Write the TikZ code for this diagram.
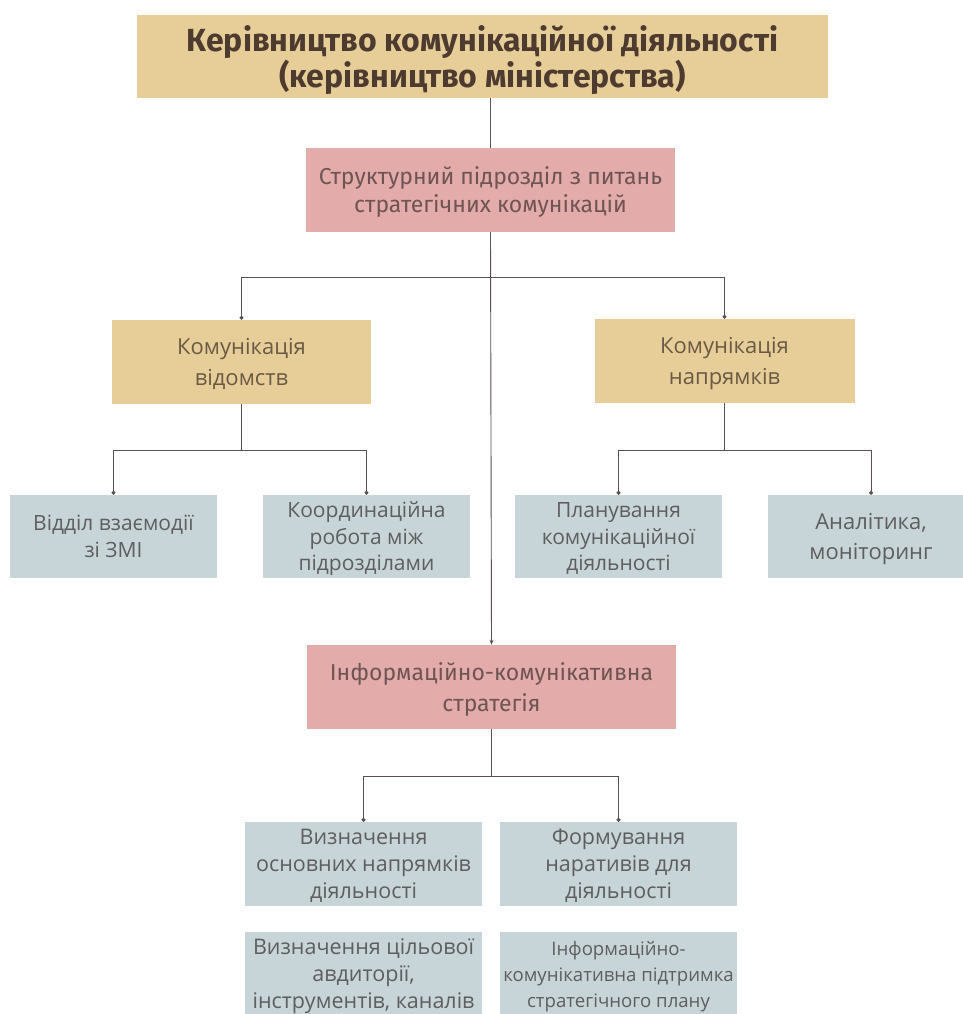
\documentclass[tikz,border=0pt]{standalone}
\usepackage{fontspec}
\setmainfont{Fira Sans}
\newfontfamily\geofont{Open Sans}
\usetikzlibrary{arrows.meta}
\definecolor{tanc}{HTML}{E7CE98}
\definecolor{pinkc}{HTML}{E3ACAA}
\definecolor{bluec}{HTML}{C7D4D8}
\definecolor{titlec}{HTML}{4D3B2F}
\definecolor{txtc}{HTML}{5E5E5E}
\definecolor{tantxt}{HTML}{6A5A45}
\definecolor{pinktxt}{HTML}{6E5553}
\definecolor{linec}{HTML}{5A5050}
\tikzset{
  box/.style={draw=none, inner sep=2pt, align=center, anchor=center, text depth=0pt},
  titlebox/.style={box, fill=tanc, text=titlec, minimum width=691pt, minimum height=83pt,
    font=\fontsize{32}{36}\selectfont\bfseries},
  pinkbox/.style={box, fill=pinkc, text=pinktxt, minimum width=369pt, minimum height=84pt,
    font=\fontsize{23}{28}\selectfont},
  tanbox/.style={box, fill=tanc, text=tantxt, minimum width=259pt, minimum height=84pt,
    font=\geofont\fontsize{22}{31}\selectfont},
  bluebox/.style={box, fill=bluec, text=txtc, minimum width=207pt, minimum height=83pt,
    font=\geofont\fontsize{21}{26.5}\selectfont},
  wbluebox/.style={bluebox, minimum width=237pt, minimum height=84pt,
    font=\geofont\fontsize{21.5}{27}\selectfont},
  conn/.style={draw=linec, line width=0.9pt},
  dotend/.style={conn, -{Circle[length=4pt]}},
  arrend/.style={conn, -{Stealth[length=5pt,width=4pt]}}
}
\begin{document}
\begin{tikzpicture}[x=1pt,y=-1pt]
\useasboundingbox (0,0) rectangle (962,1014);
\fill[white] (0,0) rectangle (962,1014);

\node[titlebox] (top) at (482.5,56.5) {Керівництво комунікаційної діяльності\\(керівництво міністерства)};
\node[pinkbox] (p1) at (490.5,190) {Структурний підрозділ з питань\\стратегічних комунікацій};

\node[tanbox] (tl) at (241.5,362) {Комунікація\\відомств};
\node[tanbox, minimum width=260pt] (tr) at (724.5,361) {Комунікація\\напрямків};

\node[bluebox] (b1) at (113.5,536.5) {Відділ взаємодії\\зі ЗМІ};
\node[bluebox] (b2) at (366.5,536.5) {Координаційна\\робота між\\підрозділами};
\node[bluebox] (b3) at (618.5,536.5) {Планування\\комунікаційної\\діяльності};
\node[bluebox, font=\geofont\fontsize{22}{30}\selectfont] (b4) at (871,536.5) {Аналітика,\\моніторинг};

\node[pinkbox, font=\fontsize{23}{31}\selectfont] (p2) at (491.5,687) {Інформаційно-комунікативна\\стратегія};

\node[wbluebox] (b5) at (363.5,864) {Визначення\\основних напрямків\\діяльності};
\node[wbluebox] (b6) at (618.5,864) {Формування\\наративів для\\діяльності};
\node[wbluebox] (b7) at (363.5,974) {Визначення цільової\\авдиторії,\\інструментів, каналів};
\node[wbluebox, font=\geofont\fontsize{18.6}{26}\selectfont] (b8) at (618.5,974) {Інформаційно-\\комунікативна підтримка\\стратегічного плану};

% connectors
\draw[conn] (top.south -| p1.north) -- (p1.north);
\draw[arrend] (p1.south) -- (p2.north);
\draw[dotend] (p1.south |- 0,277) -| (tl.north);
\draw[dotend] (p1.south |- 0,277) -| (tr.north);

\draw[dotend] (tl.south) -- ++(0,46) -| (b1.north);
\draw[dotend] (tl.south) -- ++(0,46) -| (b2.north);
\draw[dotend] (tr.south) -- ++(0,47) -| (b3.north);
\draw[dotend] (tr.south) -- ++(0,47) -| (b4.north);

\draw[dotend] (p2.south) -- ++(0,47) -| (b5.north);
\draw[dotend] (p2.south) -- ++(0,47) -| (b6.north);
\end{tikzpicture}
\end{document}
